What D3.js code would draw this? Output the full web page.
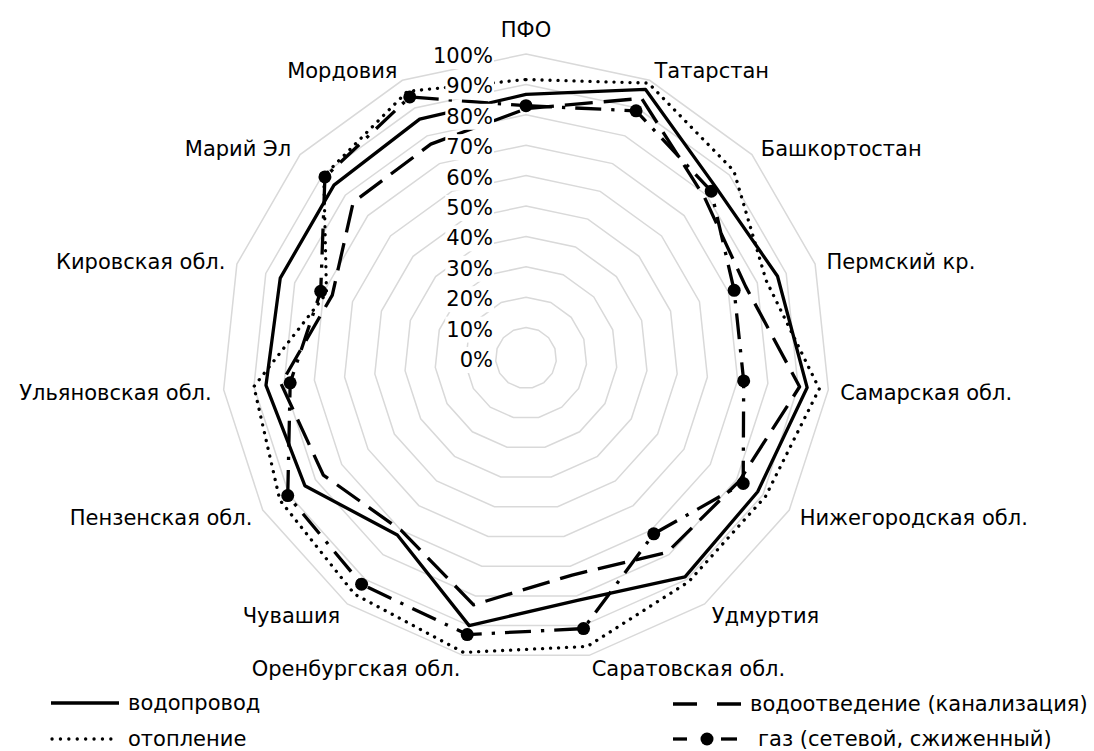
<!DOCTYPE html>
<html><head><meta charset="utf-8">
<script src="https://cdn.jsdelivr.net/npm/d3@7"></script>
<style>
body{margin:0;background:#fff}
svg{display:block}
text{font-family:"DejaVu Sans",sans-serif;fill:#000}
</style>
</head><body>
<svg id="chart" width="1094" height="751"></svg>
<script>
const categories = ['ПФО','Татарстан','Башкортостан','Пермский кр.','Самарская обл.','Нижегородская обл.','Удмуртия','Саратовская обл.','Оренбургская обл.','Чувашия','Пензенская обл.','Ульяновская обл.','Кировская обл.','Марий Эл','Мордовия'];
const vodoprovod    = [86.7, 96.7, 84, 87, 93, 88, 89, 81.5, 90, 72, 84, 86, 85, 85, 86];
const otoplenie     = [91.6, 99, 92, 83, 97, 91, 91, 97, 99, 96, 93.5, 90, 69, 89.5, 96];
const vodootvedenie = [82, 93.5, 79, 76, 90.5, 81, 79, 73, 83, 70, 77, 81, 67, 76.5, 77];
const gaz           = [83, 89, 82, 72, 72, 82.5, 71.5, 91, 93, 92, 90.5, 78, 71, 89, 94];
const tickValues = [0,10,20,30,40,50,60,70,80,90,100];
const tickLabels = ['0%','10%','20%','30%','40%','50%','60%','70%','80%','90%','100%'];
const seriesNames = ['водопровод','отопление','водоотведение (канализация)','газ (сетевой, сжиженный)'];

const cx = 526, cy = 358, R = 304;
const svg = d3.select('#chart');
const g = svg.append('g').attr('transform', `translate(${cx},${cy})`);
const rScale = d3.scaleLinear().domain([0,100]).range([0,R]);
const step = 2*Math.PI/categories.length;
const ang = i => i*step;

// grid rings
const ringLine = d3.lineRadial().angle((d,i)=>ang(i)).radius(d=>rScale(d)).curve(d3.curveLinearClosed);
tickValues.filter(v=>v>0).forEach(v=>{
  g.append('path').attr('d', ringLine(categories.map(()=>v)))
   .attr('fill','none').attr('stroke','#d9d9d9').attr('stroke-width',1.5);
});

// category labels
categories.forEach((c,i)=>{
  const a = ang(i), s = Math.sin(a), co = Math.cos(a);
  const rr = R+12;
  let x = rr*s, y = -rr*co + 2;
  let anchor = Math.abs(s)<0.01 ? 'middle' : (s>0?'start':'end');
  if (co>0.99) y -= 14;
  g.append('text').attr('x',x).attr('y',y).attr('text-anchor',anchor)
   .attr('dominant-baseline','central').attr('font-size',21).text(c);
});

const seriesLine = d3.lineRadial().angle((d,i)=>ang(i)).radius(d=>rScale(d)).curve(d3.curveLinearClosed);
const styles = [
  {data: vodoprovod, dash: null, cap:'butt'},
  {data: otoplenie, dash: '0.1,7.9', cap:'round'},
  {data: vodootvedenie, dash: '28,11', cap:'butt'},
  {data: gaz, dash: '26,10,3.3,10', cap:'butt'}
];
styles.forEach(s=>{
  const p = g.append('path').attr('d', seriesLine(s.data)).attr('fill','none')
   .attr('stroke','#000').attr('stroke-width',3.3).attr('stroke-linejoin','round')
   .attr('stroke-linecap', s.cap);
  if (s.dash) p.attr('stroke-dasharray', s.dash);
});
// gas markers
g.selectAll('circle.m').data(gaz).enter().append('circle')
 .attr('cx',(d,i)=>rScale(d)*Math.sin(ang(i)))
 .attr('cy',(d,i)=>-rScale(d)*Math.cos(ang(i)))
 .attr('r',6.5).attr('fill','#000');

// tick labels on top with white background
const tl = g.append('g');
tickValues.forEach((v,i)=>{
  const t = tl.append('text').attr('x',-33).attr('y',-rScale(v)+2)
   .attr('text-anchor','end').attr('dominant-baseline','central')
   .attr('font-size',21).text(tickLabels[i]);
  const b = t.node().getBBox();
  tl.insert('rect', 'text').attr('x',b.x-1).attr('y',-rScale(v)+2-13).attr('width',b.width+2).attr('height',26).attr('fill','#fff');
});

// legend
const L = svg.append('g');
function legendLine(x1,x2,y,dash,cap){
  const l = L.append('line').attr('x1',x1).attr('x2',x2).attr('y1',y).attr('y2',y)
   .attr('stroke','#000').attr('stroke-width',3.3).attr('stroke-linecap',cap||'butt');
  if (dash) l.attr('stroke-dasharray',dash);
}
const y1 = 703, y2 = 739;
legendLine(51,119,y1,null);
L.append('text').attr('x',128).attr('y',y1).attr('dominant-baseline','central').attr('font-size',21).text(seriesNames[0]);
legendLine(52,119,y2,'0.1,8.3','round');
L.append('text').attr('x',128).attr('y',y2).attr('dominant-baseline','central').attr('font-size',21).text(seriesNames[1]);
legendLine(673,741,y1+1,'24,20');
L.append('text').attr('x',750).attr('y',y1+1).attr('dominant-baseline','central').attr('font-size',21).text(seriesNames[2]);
legendLine(673,687,y2,null);
legendLine(721,737,y2,null);
L.append('circle').attr('cx',707).attr('cy',y2).attr('r',6.5).attr('fill','#000');
L.append('text').attr('x',758).attr('y',y2).attr('dominant-baseline','central').attr('font-size',21).text(seriesNames[3]);
</script>
</body></html>
